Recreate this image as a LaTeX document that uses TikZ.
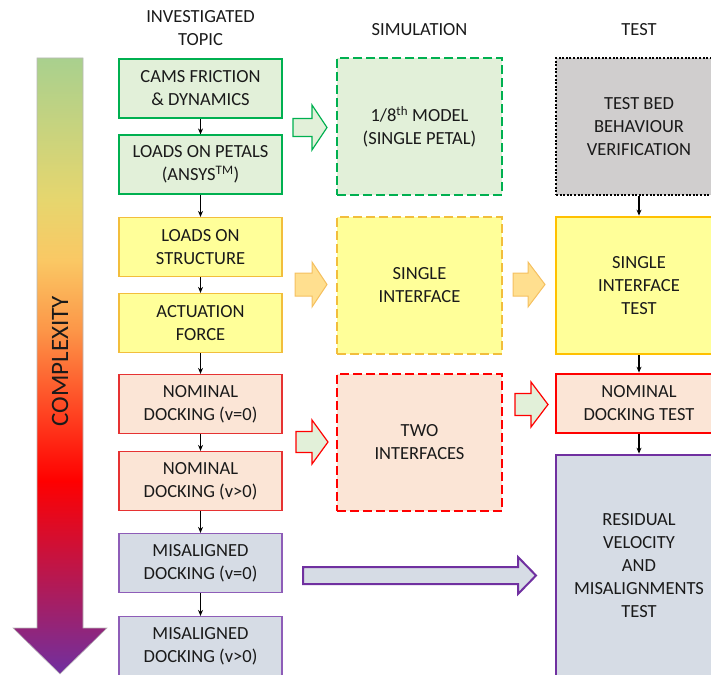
\documentclass[tikz,border=0pt]{standalone}
\usepackage{fontspec}
\setmainfont{Carlito}
\usetikzlibrary{arrows.meta}

\definecolor{txt}{HTML}{1A1A1A}
\definecolor{gfill}{HTML}{E2F0D9}
\definecolor{gline}{HTML}{00B050}
\definecolor{yfill}{HTML}{FFFF99}
\definecolor{yline}{HTML}{F2BE3C}
\definecolor{ydark}{HTML}{FFC000}
\definecolor{afill}{HTML}{FFDF8F}
\definecolor{aline}{HTML}{F5C060}
\definecolor{rfill}{HTML}{FBE5D6}
\definecolor{rline}{HTML}{E63232}
\definecolor{pfill}{HTML}{D6DCE5}
\definecolor{pline}{HTML}{8E5DB8}
\definecolor{pdark}{HTML}{7030A0}
\definecolor{bedfill}{HTML}{D0CECE}

% colour ramp of the complexity arrow (bottom to top)
\definecolor{cgreen}{RGB}{169,208,142}
\definecolor{cyellow}{RGB}{230,214,110}
\definecolor{cgold}{RGB}{250,200,100}
\definecolor{corange}{RGB}{252,150,72}
\definecolor{cscarlet}{RGB}{255,60,30}
\definecolor{cred}{RGB}{255,0,0}
\definecolor{cpurple}{RGB}{112,48,160}
\pgfdeclareverticalshading{complexity}{100bp}{color(0bp)=(cpurple); color(25bp)=(cpurple);
  color(40.7bp)=(cred); color(45.6bp)=(cscarlet); color(52.9bp)=(corange);
  color(58.6bp)=(cgold); color(63.5bp)=(cyellow); color(75bp)=(cgreen); color(100bp)=(cgreen)}

% fat block arrow: style, x start, head start, tip, y centre, shaft half, head half
\newcommand{\fatarrow}[7]{%
  \draw[#1] (#2,{#5-#6}) -- (#3,{#5-#6}) -- (#3,{#5-#7}) -- (#4,#5)
    -- (#3,{#5+#7}) -- (#3,{#5+#6}) -- (#2,{#5+#6}) -- cycle;}

\tikzset{
  lbl/.style={align=center, text=txt, font=\fontsize{18.5}{23}\selectfont},
  box/.style={lbl, rectangle, inner sep=2pt},
  topic/.style={box, minimum width=163pt, minimum height=59pt, line width=1.2pt},
  sim/.style={box, minimum width=165pt, minimum height=137pt, line width=1.4pt,
    dash pattern=on 9pt off 4pt},
  test/.style={box, minimum width=166pt, line width=2.8pt},
  link/.style={-{Stealth[length=6pt,width=5pt]}, line width=1.2pt, black},
}

\begin{document}
\begin{tikzpicture}[x=1pt,y=-1pt]
  \useasboundingbox (0,0) rectangle (711,674);
  \clip (0,0) rectangle (711,674);

  % complexity scale
  \shade[shading=complexity, draw=gray!55, line width=0.6pt]
    (37,58) -- (83,58) -- (83,628) -- (107,628) -- (60,674) -- (13,628) -- (37,628) -- cycle;
  \node[lbl, rotate=90, font=\fontsize{25}{30}\selectfont] (cplx) at (60,361) {COMPLEXITY};

  % column heads
  \node[lbl] (hdtopic) at (200.5,28.5) {INVESTIGATED\\TOPIC};
  \node[lbl] (hdsim) at (419.5,30) {SIMULATION};
  \node[lbl] (hdtest) at (639,30) {TEST};

  % investigated topics
  \node[topic, draw=gline, fill=gfill] (cams) at (200.5,88.5) {CAMS FRICTION\\\& DYNAMICS};
  \node[topic, draw=gline, fill=gfill] (petals) at (200.5,164.5) {LOADS ON PETALS\\(ANSYS\textsuperscript{TM})};
  \node[topic, draw=yline, fill=yfill] (struct) at (200.5,247) {LOADS ON\\STRUCTURE};
  \node[topic, draw=yline, fill=yfill] (actforce) at (200.5,323) {ACTUATION\\FORCE};
  \node[topic, draw=rline, fill=rfill] (nomzero) at (200.5,404) {NOMINAL\\DOCKING (v=0)};
  \node[topic, draw=rline, fill=rfill] (nompos) at (200.5,481) {NOMINAL\\DOCKING (v>0)};
  \node[topic, draw=pline, fill=pfill] (miszero) at (200.5,563) {MISALIGNED\\DOCKING (v=0)};
  \node[topic, draw=pline, fill=pfill] (mispos) at (200.5,646) {MISALIGNED\\DOCKING (v>0)};

  \draw[link] (cams) -- (petals);
  \draw[link] (petals) -- (struct);
  \draw[link] (struct) -- (actforce);
  \draw[link] (actforce) -- (nomzero);
  \draw[link] (nomzero) -- (nompos);
  \draw[link] (nompos) -- (miszero);
  \draw[link] (miszero) -- (mispos);

  % simulations
  \node[sim, draw=gline, fill=gfill] (model) at (419.5,126.5) {1/8\textsuperscript{th} MODEL\\(SINGLE PETAL)};
  \node[sim, draw=yline, fill=yfill] (single) at (419.5,285.5) {SINGLE\\INTERFACE};
  \node[sim, draw=red, fill=rfill] (twoif) at (419.5,442.5) {TWO\\INTERFACES};

  % tests
  \node[test, minimum height=137pt, draw=black, fill=bedfill, dash pattern=on 2pt off 1.6pt,
    line width=2.4pt] (testbed) at (639,126.5) {TEST BED\\BEHAVIOUR\\VERIFICATION};
  \node[test, minimum height=137pt, draw=ydark, fill=yfill] (sitest) at (639,285.5) {SINGLE\\INTERFACE\\TEST};
  \node[test, minimum height=59pt, draw=red, fill=rfill] (ndtest) at (639,403.5) {NOMINAL\\DOCKING TEST};
  \node[test, minimum height=222pt, draw=pdark, fill=pfill] (residual) at (639,566)
    {RESIDUAL\\VELOCITY\\AND\\MISALIGNMENTS\\TEST};

  \draw[link] (testbed) -- (sitest);
  \draw[link] (sitest) -- (ndtest);
  \draw[link] (ndtest) -- (residual);

  % block arrows between the columns
  \fatarrow{draw=gline, fill=gfill, line width=1.2pt}{293}{312}{327}{127.5}{9}{22.5}
  \fatarrow{draw=aline, fill=afill, line width=1pt}{295}{312}{327}{284.5}{11.5}{22.5}
  \fatarrow{draw=aline, fill=afill, line width=1pt}{513}{528}{545}{284.5}{11.5}{22.5}
  \fatarrow{draw=red, fill=gfill, line width=1.2pt}{296}{312}{328}{442}{10.5}{22}
  \fatarrow{draw=red, fill=gfill, line width=1.2pt}{515}{531}{548}{404.5}{11}{22.5}
  \fatarrow{draw=pdark, fill=pfill, line width=2pt}{303}{518}{536}{575.5}{8.5}{18.5}
\end{tikzpicture}
\end{document}
